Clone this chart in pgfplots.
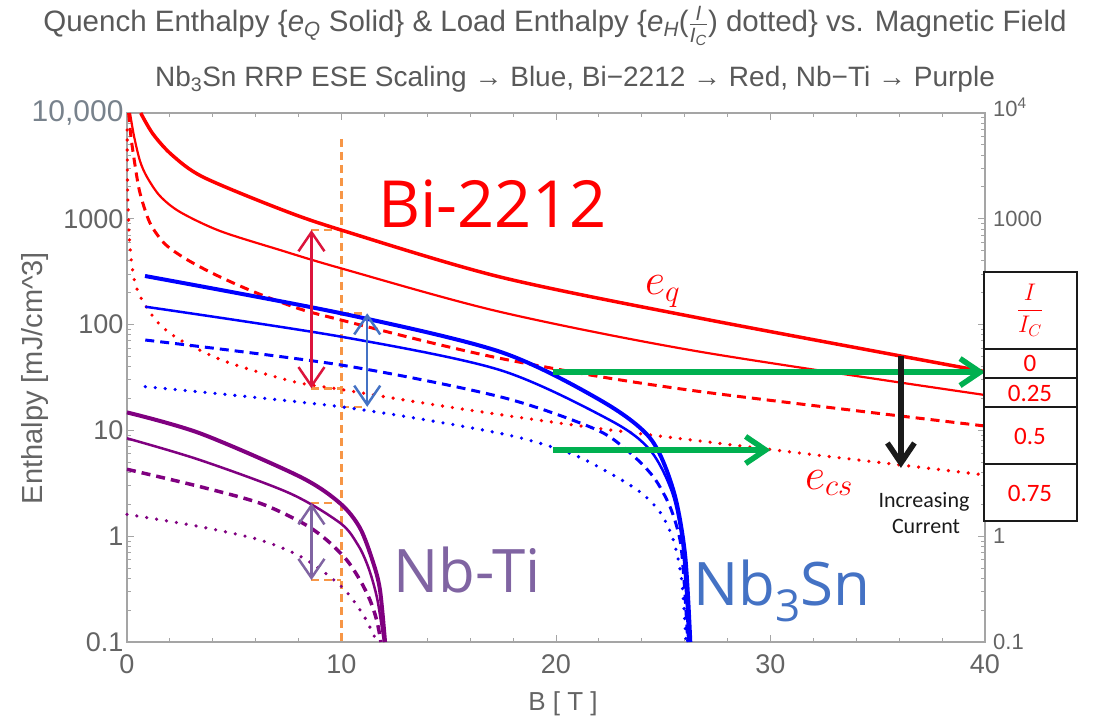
\RequirePackage{fix-cm}
\documentclass[border=0pt]{standalone}
\usepackage{amsmath}
\usepackage{fontspec}
\usepackage{pgfplots}
\pgfplotsset{compat=1.18}
\usetikzlibrary{arrows.meta}
\setmainfont{Liberation Sans}
\newfontfamily\opensans{Open Sans}
\newfontfamily\carlito{Carlito}

\definecolor{bired}{RGB}{255,0,0}
\definecolor{nbblue}{RGB}{0,0,255}
\definecolor{tipurple}{RGB}{128,0,128}
\definecolor{guide}{RGB}{247,150,70}
\definecolor{crim}{RGB}{220,20,60}
\definecolor{steel}{RGB}{68,114,196}
\definecolor{lav}{RGB}{128,100,162}
\definecolor{grn}{RGB}{0,176,80}
\definecolor{ink}{RGB}{26,26,26}
\definecolor{framegray}{RGB}{165,165,165}
\definecolor{labgray}{RGB}{100,100,100}
\definecolor{titlegray}{RGB}{89,89,89}
\definecolor{topgray}{RGB}{120,130,140}

\tikzset{
  dashedline/.style={line width=3pt, dash pattern=on 9pt off 6pt},
  dottedline/.style={line width=3.6pt, line cap=round, dash pattern=on 0pt off 10pt},
  guideline/.style={guide, line width=2.5pt, dash pattern=on 8pt off 5pt},
  dbl/.style={line width=2.5pt, {Straight Barb[length=19pt,width=26pt]}-{Straight Barb[length=19pt,width=26pt]}},
  bigarrow/.style={line width=5.5pt, -{Straight Barb[length=20pt,width=27pt]}},
}

\begin{document}
\begin{tikzpicture}[x=1pt,y=1pt]
\useasboundingbox (-127,-79) rectangle (966,642);
\begin{axis}[
  at={(0,0)}, anchor=south west,
  width=858pt, height=529pt, scale only axis,
  xmin=0, xmax=40, ymin=0.1, ymax=10000, ymode=log,
  xtick={0,10,20,30,40}, xticklabels={0,10,20,30,40},
  minor x tick num=4,
  ytick={0.1,1,10,100,1000,10000},
  yticklabels={0.1,1,10,100,1000,{\color{topgray}\fontsize{30}{30}\selectfont 10,000}},
  /pgf/number format/assume math mode=true,
  tick align=inside,
  major tick length=7pt, minor tick length=4pt,
  axis line style={framegray, line width=1.3pt},
  tick style={framegray, line width=1pt},
  ticklabel style={font=\fontsize{27}{27}\selectfont, text=labgray},
  xticklabel style={yshift=-9pt},
  clip=false,
]

% reference field line at 10 T and the margin brackets
\addplot[guideline] coordinates {(10,5680)(10,0.1)};
\addplot[guideline] coordinates {(8.6,783)(10,783)};
\addplot[guideline] coordinates {(8.6,25)(10,25)};
\addplot[guideline] coordinates {(10,128)(11.2,128)};
\addplot[guideline] coordinates {(10,16.7)(11.2,16.7)};
\addplot[guideline] coordinates {(8.6,2.05)(10,2.05)};
\addplot[guideline] coordinates {(8.6,0.385)(10,0.385)};

% Bi-2212: I/Ic = 0, 0.25, 0.5, 0.75
\addplot[bired, line width=3.5pt, smooth] coordinates {
 (0.639,10000)(1.212,6332)(2.098,4009)(3.543,2483)(7.133,1238)(9.977,784)
 (17.389,282)(26.713,115)(40,35.9)};
\addplot[bired, line width=2.2pt, smooth] coordinates {
 (0.14,10000)(0.326,6062)(0.606,3518)(0.932,2484)(1.538,1642)(2.471,1160)(4.336,767)
 (7.133,507)(9.977,340.5)(17.389,132)(26.713,55.4)(40,21.6)};
\addplot[bired, dashedline, smooth] coordinates {
 (0.075,10000)(0.186,5932)(0.373,3225)(0.606,1753)(1.072,913)(1.772,578)(2.751,417)
 (4.103,297.5)(5.874,205.6)(8.065,140.4)(9.977,110.5)(13.986,68.9)(17.389,48.0)
 (22.051,32.2)(26.713,23.3)(33.706,15.6)(40,11.0)};
\addplot[bired, dottedline, smooth] coordinates {
 (0.007,6908)(0.028,2087)(0.093,750)(0.21,390.7)(0.373,247.3)(0.606,186.3)(0.932,143.6)
 (1.552,99.1)(2.564,70.0)(4.662,44.3)(7.772,28.9)(9.977,24.4)(13.66,18.35)(17.389,14.1)
 (22.051,10.4)(26.713,7.94)(31.375,6.11)(40,3.79)};

% Nb3Sn
\addplot[nbblue, line width=4pt, smooth] coordinates {
 (0.839,288)(9.977,128)(17.389,55.4)(22.051,19.38)(24.382,8.48)(25.469,2.73)
 (26.014,0.679)(26.261,0.1)};
\addplot[nbblue, line width=2.5pt, smooth] coordinates {
 (0.853,147.6)(9.977,76.9)(17.389,37.2)(22.517,12.5)(24.382,6.53)(25.408,2.62)
 (25.874,0.921)(26.084,0.249)(26.163,0.1)};
\addplot[nbblue, dashedline, smooth] coordinates {
 (0.853,71.5)(9.977,41.5)(17.389,20.8)(21.739,10.47)(23.296,6.53)(24.536,3.65)
 (25.315,1.90)(25.781,0.921)(25.967,0.385)(26.145,0.1)};
\addplot[nbblue, dottedline, smooth] coordinates {
 (0.853,25.9)(9.977,16.7)(17.389,9.39)(20.653,6.08)(22.517,3.93)(23.916,2.62)
 (24.848,1.69)(25.469,0.921)(25.86,0.385)(26.065,0.1)};

% Nb-Ti
\addplot[tipurple, line width=4pt, smooth] coordinates {
 (0,14.8)(3.403,9.39)(8.065,3.65)(9.93,2.05)(10.862,1.195)(11.469,0.570)(11.795,0.310)
 (12.03,0.1)};
\addplot[tipurple, line width=2.5pt, smooth] coordinates {
 (0,8.42)(3.403,5.25)(7.599,2.54)(9.963,1.32)(10.769,0.826)(11.175,0.558)(11.469,0.369)
 (11.702,0.234)(11.981,0.1)};
\addplot[tipurple, dashedline, line width=3.5pt, smooth] coordinates {
 (0,4.29)(3.403,2.94)(6.2,2.05)(8.219,1.32)(9.31,0.921)(10.242,0.596)(10.862,0.385)
 (11.329,0.249)(11.641,0.161)(11.841,0.1)};
\addplot[tipurple, dottedline, smooth] coordinates {
 (0,1.61)(3.403,1.23)(6.2,0.921)(8.219,0.622)(10.009,0.333)(11.016,0.18)(11.655,0.1)};

% margins at 10 T
\addplot[crim, dbl] coordinates {(8.6,25)(8.6,783)};
\addplot[steel, dbl] coordinates {(11.2,16.7)(11.2,128)};
\addplot[lav, dbl] coordinates {(8.6,0.385)(8.6,2.05)};

% field reach at equal enthalpy
\addplot[grn, bigarrow] coordinates {(19.86,35.6)(40,35.6)};
\addplot[grn, bigarrow] coordinates {(19.86,6.53)(30,6.53)};
\addplot[ink, bigarrow] coordinates {(36.08,50.5)(36.08,4.42)};
\end{axis}

% right-hand tick labels
\begin{scope}[every node/.style={anchor=west, text=labgray, font=\fontsize{22}{22}\selectfont, inner sep=0pt}]
\node at (866,535) {10\textsuperscript{4}};
\node at (866,423.2) {1000};
\node at (866,105.8) {1};
\node at (866,0) {0.1};
\end{scope}

% I/I_C table
\draw[ink, line width=2.5pt, fill=white] (857,121) rectangle (950,370);
\draw[ink, line width=2.5pt] (857,293)--(950,293) (857,264)--(950,264)
  (857,235)--(950,235) (857,178)--(950,178);
\begin{scope}[every node/.style={text=bired, font=\carlito\fontsize{25}{25}\selectfont, inner sep=0pt}]
\node at (903,332) {\fontsize{24}{24}\selectfont$\displaystyle\frac{I}{I_C}$};
\node at (903,279) {0};
\node at (903,249) {0.25};
\node at (903,206) {0.5};
\node at (903,149) {0.75};
\end{scope}

\node[anchor=base, font=\carlito\fontsize{22}{22}\selectfont, text=ink, inner sep=0pt] at (797,135) {Increasing};
\node[anchor=base, font=\carlito\fontsize{22}{22}\selectfont, text=ink, inner sep=0pt] at (799,109) {Current};

% material names
\node[anchor=base west, inner sep=0pt, text=bired, font=\opensans\fontsize{65}{65}\selectfont] at (251,414) {Bi-2212};
\node[anchor=base west, inner sep=0pt, text=lav, font=\opensans\fontsize{60}{60}\selectfont] at (266,50) {Nb-Ti};
\node[anchor=base west, inner sep=0pt, text=steel, font=\opensans\fontsize{60}{60}\selectfont] at (566,37) {Nb\raisebox{-16pt}{\fontsize{44}{44}\selectfont 3}Sn};

% curve labels
\node[anchor=base west, inner sep=0pt, text=bired] at (518,347) {\fontsize{44}{44}\selectfont$e_q$};
\node[anchor=base west, inner sep=0pt, text=bired] at (678,153) {\fontsize{44}{44}\selectfont$e_{cs}$};

% axis labels
\node[rotate=90, text=labgray, font=\fontsize{29}{29}\selectfont] at (-92,264) {Enthalpy [mJ/cm\^{}3]};
\node[text=labgray, font=\fontsize{26}{26}\selectfont] at (436,-62) {B [ T ]};

% titles
\node[anchor=base, text=titlegray, font=\fontsize{29.5}{29.5}\selectfont, inner sep=0pt] at (428,610)
  {Quench Enthalpy \{\textit{e}\textsubscript{\textit{Q}} Solid\} \& Load Enthalpy \{\textit{e}\textsubscript{\textit{H}}($\frac{\textit{I}}{\textit{I}_{\textit{C}}}$) dotted\} vs. Magnetic Field};
\node[anchor=base, text=titlegray, font=\fontsize{28}{28}\selectfont, inner sep=0pt] at (448,555)
  {Nb\textsubscript{3}Sn RRP ESE Scaling → Blue, Bi−2212 → Red, Nb−Ti → Purple};
\end{tikzpicture}
\end{document}
